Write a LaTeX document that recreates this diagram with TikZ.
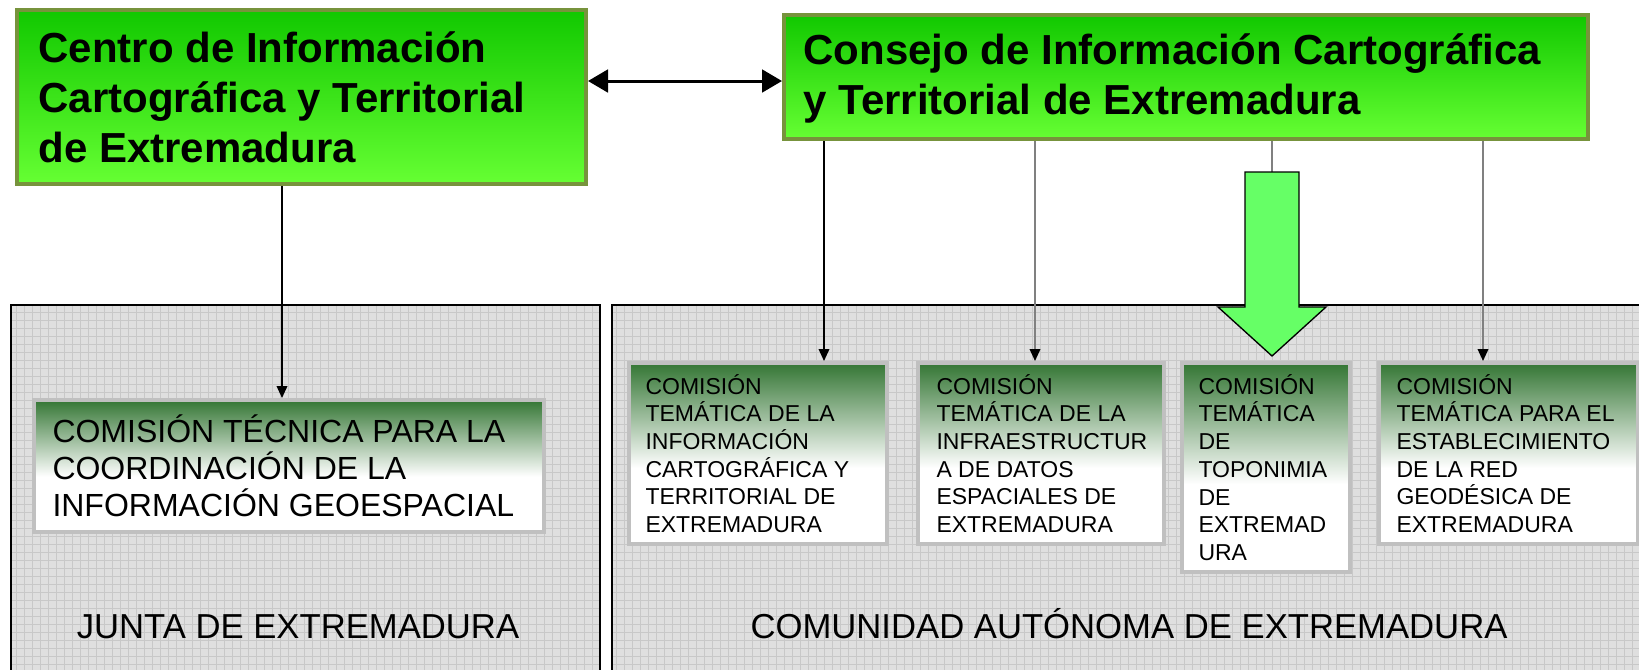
\documentclass[tikz,border=0pt]{standalone}
\usepackage{fontspec}
\setmainfont{Liberation Sans}
\usetikzlibrary{arrows.meta}

\definecolor{olivebd}{RGB}{119,147,60}
\definecolor{greentop}{RGB}{17,200,0}
\definecolor{greenbot}{RGB}{102,255,51}
\definecolor{comgreen}{RGB}{52,118,52}
\definecolor{arrowgreen}{RGB}{102,255,102}
\definecolor{panelgray}{RGB}{223,223,223}
\definecolor{gridgray}{RGB}{200,200,200}
\definecolor{boxgray}{RGB}{192,192,192}

\pgfdeclareverticalshading{comfade}{100bp}{color(0bp)=(white); color(46bp)=(white); color(75bp)=(comgreen); color(100bp)=(comgreen)}

\tikzset{every picture/.style={line width=0.75pt}}
\tikzset{
  bigbox/.style={draw=olivebd, line width=3pt, top color=greentop, bottom color=greenbot, inner sep=0pt},
  combox/.style={draw=boxgray, line width=3pt, shade, shading=comfade, inner sep=0pt},
  bigtxt/.style={anchor=west, inner sep=0pt, align=left, font=\bfseries\fontsize{31.5}{37.5}\selectfont},
  tectxt/.style={anchor=west, inner sep=0pt, align=left, font=\fontsize{24}{27.75}\selectfont},
  comtxt/.style={anchor=west, inner sep=0pt, align=left, font=\fontsize{17.25}{20.8}\selectfont},
  paneltxt/.style={anchor=base, inner sep=0pt, font=\fontsize{26}{30}\selectfont},
  conn/.style={-{Triangle[length=9pt,width=8pt,color=black]}, line width=1.1pt},
  dblarrow/.style={{Triangle[length=15pt,width=17pt]}-{Triangle[length=15pt,width=17pt]}, line width=2.25pt}
}

\begin{document}
\begin{tikzpicture}[x=0.75pt,y=0.75pt,yscale=-1,xscale=1]
\useasboundingbox (0,0) rectangle (1639,669);
\clip (0,0) rectangle (1639,669);
\fill [white] (0,0) rectangle (1639,669);

%Shape: Rectangle [panel junta]
\fill [panelgray] (11,305) rectangle (600,690);
\draw [gridgray, line width=0.4pt, step=8] (11,305) grid (600,690);
\draw [line width=1.2pt] (11,305) rectangle (600,690);
%Shape: Rectangle [panel comunidad]
\fill [panelgray] (612,305) rectangle (1660,690);
\draw [gridgray, line width=0.4pt, step=8] (612,305) grid (1660,690);
\draw [line width=1.2pt] (612,305) rectangle (1660,690);

%Shape: Rectangle [centro]
\node [bigbox, minimum width=426.75pt, minimum height=130.5pt] (cit) at (301.5,97) {};
%Shape: Rectangle [consejo]
\node [bigbox, minimum width=603pt, minimum height=93pt] (cons) at (1186,77) {};

%Shape: Rectangle [comisiones]
\node [combox, minimum width=382.5pt, minimum height=99pt] (comtec) at (289,466) {};
\node [combox, minimum width=193.5pt, minimum height=135.75pt] (tem1) at (758,453.5) {};
\node [combox, minimum width=184.5pt, minimum height=135.75pt] (tem2) at (1041,453.5) {};
\node [combox, minimum width=126pt, minimum height=156.75pt] (tem3) at (1266,467.5) {};
\node [combox, minimum width=194.25pt, minimum height=135.75pt] (tem4) at (1508.5,453.5) {};

%Coordinates for the connectors
\coordinate (arr) at (0,81);
\coordinate (x0) at (282,0);
\coordinate (x1) at (824,0);
\coordinate (x2) at (1035,0);
\coordinate (x4) at (1483,0);
\coordinate (bigtop) at (1272,172);

%Straight Lines
\draw [dblarrow] (cit.east |- arr) -- (cons.west |- arr);
\draw [conn] (cit.south -| x0) -- (comtec.north -| x0);
\draw [conn] (cons.south -| x1) -- (tem1.north -| x1);
\draw [conn, gray] (cons.south -| x2) -- (tem2.north -| x2);
\draw [conn, gray] (cons.south -| x4) -- (tem4.north -| x4);
\draw [gray, line width=1.1pt] (cons.south -| bigtop) -- (bigtop);

%Shape: Down Arrow
\draw [fill=arrowgreen, line width=1pt] (1245,172) -- (1299,172) -- (1299,307) -- (1326,307) -- (1272,356) -- (1218,307) -- (1245,307) -- cycle;

% Text Node
\node [bigtxt] (cit-t) at (38,97) {Centro de Información\\Cartográfica y Territorial\\de Extremadura};
% Text Node
\node [bigtxt] (cons-t) at (803,78) {Consejo de Información Cartográfica\\y Territorial de Extremadura};
% Text Node
\node [tectxt] (comtec-t) at (52,466) {COMISIÓN TÉCNICA PARA LA\\COORDINACIÓN DE LA\\INFORMACIÓN GEOESPACIAL};
% Text Node
\node [comtxt] (tem1-t) at (645,453.5) {COMISIÓN\\TEMÁTICA DE LA\\INFORMACIÓN\\CARTOGRÁFICA Y\\TERRITORIAL DE\\EXTREMADURA};
% Text Node
\node [comtxt] (tem2-t) at (936,453.5) {COMISIÓN\\TEMÁTICA DE LA\\INFRAESTRUCTUR\\A DE DATOS\\ESPACIALES DE\\EXTREMADURA};
% Text Node
\node [comtxt] (tem3-t) at (1198,467.5) {COMISIÓN\\TEMÁTICA\\DE\\TOPONIMIA\\DE\\EXTREMAD\\URA};
% Text Node
\node [comtxt] (tem4-t) at (1396,453.5) {COMISIÓN\\TEMÁTICA PARA EL\\ESTABLECIMIENTO\\DE LA RED\\GEODÉSICA DE\\EXTREMADURA};
% Text Node
\node [paneltxt] (junta) at (298,638) {JUNTA DE EXTREMADURA};
% Text Node
\node [paneltxt] (comunidad) at (1129,638) {COMUNIDAD AUTÓNOMA DE EXTREMADURA};

\end{tikzpicture}
\end{document}
